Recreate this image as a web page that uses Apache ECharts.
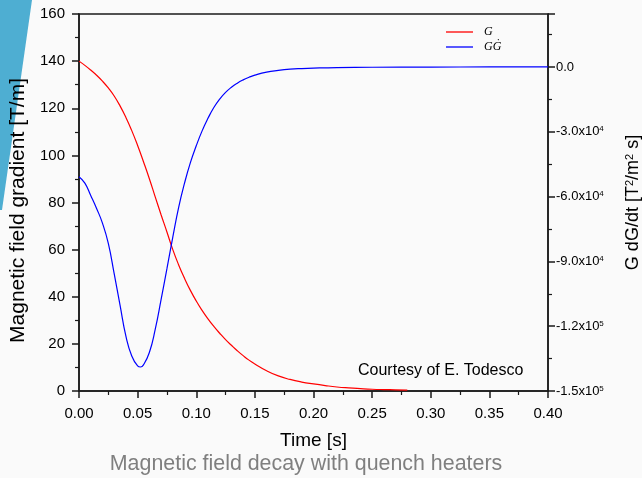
<!DOCTYPE html>
<html>
<head>
<meta charset="utf-8">
<script src="https://cdn.jsdelivr.net/npm/echarts@6/dist/echarts.min.js"></script>
<style>
  html, body { margin: 0; padding: 0; background: #fafafa; }
  #chart { width: 642px; height: 478px; }
</style>
</head>
<body>
<div id="chart"></div>
<script>
// G(t) in T/m
const timeG = [0, 0.005, 0.01, 0.015, 0.02, 0.025, 0.03, 0.035, 0.04, 0.045, 0.05, 0.055, 0.06, 0.065, 0.07, 0.075,
  0.08, 0.085, 0.09, 0.095, 0.1, 0.105, 0.11, 0.115, 0.12, 0.125, 0.13, 0.135, 0.14, 0.145, 0.15,
  0.16, 0.17, 0.18, 0.19, 0.2, 0.21, 0.22, 0.23, 0.24, 0.25, 0.26, 0.27, 0.28]
const gradient = [140, 138.2, 136.2, 134.0, 131.5, 128.6, 125.2, 121.0, 116.1, 110.5, 104.2, 97.3, 90.1, 82.4, 74.8, 67.5,
  60.0, 53.5, 47.8, 42.7, 38.2, 34.2, 30.6, 27.4, 24.5, 21.8, 19.4, 17.1, 15.0, 13.1, 11.5,
  8.6, 6.4, 4.9, 3.8, 3.0, 2.3, 1.7, 1.3, 1.0, 0.75, 0.6, 0.5, 0.4]

// G dG/dt in T^2/m^2 s
const timeGG = [0, 0.005, 0.01, 0.015, 0.02, 0.025, 0.03, 0.035, 0.04, 0.045, 0.05, 0.0525, 0.055, 0.06, 0.065,
  0.07, 0.075, 0.08, 0.085, 0.09, 0.095, 0.1, 0.105, 0.11, 0.115, 0.12, 0.125, 0.13, 0.135, 0.14, 0.145, 0.15,
  0.16, 0.17, 0.18, 0.19, 0.2, 0.22, 0.25, 0.3, 0.35, 0.4]
const gDotG = [-50800, -53800, -59500, -65500, -72300, -81700, -95700, -110300, -124600, -133800, -138400, -138900,
  -137900, -132200, -121500, -107700, -93400, -78800, -65000, -53800, -44300, -36500, -29600, -23800, -18800,
  -14900, -11800, -9400, -7500, -6000, -4800, -3800, -2400, -1600, -1050, -750, -550, -300, -150, -60, -20, 0]

const seriesNames = ['G', 'GĠ']

const axisColor = '#1a1a1a'
const font = 'Liberation Sans'

function sciLabel(v) {
  if (v > 0) return ''
  if (v === 0) return '0.0'
  const e = Math.floor(Math.log10(Math.abs(v)))
  const m = (v / Math.pow(10, e)).toFixed(1)
  return m + 'x10{sup|' + e + '}'
}

const chart = echarts.init(document.getElementById('chart'))
chart.setOption({
  backgroundColor: '#fafafa',
  animation: false,
  textStyle: { fontFamily: font },
  grid: {
    left: 79, right: 94, top: 14, bottom: 87,
    outerBoundsMode: 'none',
    containLabel: false,
    show: true, borderColor: axisColor, borderWidth: 1.5
  },
  legend: {
    orient: 'vertical',
    left: 446, top: 26,
    padding: 0,
    icon: 'rect',
    itemWidth: 27, itemHeight: 1.3, itemGap: 3,
    textStyle: { fontFamily: 'Liberation Serif', fontStyle: 'italic', fontSize: 12, color: '#000', padding: [0, 0, 0, 6] },
    data: seriesNames
  },
  xAxis: {
    type: 'value',
    min: 0, max: 0.4, interval: 0.05,
    name: 'Time [s]',
    nameLocation: 'middle',
    nameGap: 40,
    nameTextStyle: { fontSize: 19, color: '#000' },
    axisLine: { lineStyle: { color: axisColor, width: 1.5 } },
    axisTick: { length: 7, lineStyle: { width: 1.5 } },
    minorTick: { show: true, splitNumber: 2, length: 4, lineStyle: { color: axisColor, width: 1.2 } },
    splitLine: { show: false },
    axisLabel: { fontSize: 15, color: '#000', margin: 15, formatter: v => v.toFixed(2) }
  },
  yAxis: [
    {
      type: 'value',
      min: 0, max: 160, interval: 20,
      name: 'Magnetic field gradient [T/m]',
      nameLocation: 'middle',
      nameGap: 46,
      nameTextStyle: { fontSize: 21, color: '#000', padding: [0, 16, 0, 0] },
      axisLine: { show: true, lineStyle: { color: axisColor, width: 1.5 } },
      axisTick: { show: true, length: 7, lineStyle: { width: 1.5 } },
      minorTick: { show: true, splitNumber: 2, length: 4, lineStyle: { color: axisColor, width: 1.2 } },
      splitLine: { show: false },
      axisLabel: { fontSize: 15, color: '#000', margin: 14 }
    },
    {
      type: 'value',
      position: 'right',
      min: -150000, max: 24500, interval: 30000,
      name: 'G dG/dt [T{sup|2}/m{sup|2} s]',
      nameLocation: 'middle',
      nameGap: 76,
      nameRotate: 90,
      nameTextStyle: {
        fontSize: 18, color: '#000',
        rich: { sup: { fontSize: 11, verticalAlign: 'top', color: '#000' } }
      },
      axisLine: { show: true, lineStyle: { color: axisColor, width: 1.5 } },
      axisTick: { show: true, length: 7, lineStyle: { width: 1.5 } },
      minorTick: { show: true, splitNumber: 2, length: 4, lineStyle: { color: axisColor, width: 1.2 } },
      splitLine: { show: false },
      axisLabel: {
        fontSize: 13, color: '#000', margin: 8,
        formatter: sciLabel,
        rich: { sup: { fontSize: 8, verticalAlign: 'top', color: '#000' } }
      }
    }
  ],
  graphic: [
    {
      type: 'polygon',
      shape: { points: [[0, 0], [32, 0], [2, 210], [0, 210]] },
      style: { fill: '#4eaed2' },
      silent: true
    },
    {
      type: 'text',
      style: { x: 358, y: 371, text: 'Courtesy of E. Todesco', font: '16px Liberation Sans', fill: '#000', textVerticalAlign: 'middle' }
    },
    {
      type: 'text',
      style: { x: 306, y: 464, text: 'Magnetic field decay with quench heaters', font: '21.4px Liberation Sans', fill: '#7f7f7f', textAlign: 'center', textVerticalAlign: 'middle' }
    }
  ],
  series: [
    {
      name: seriesNames[0],
      type: 'line',
      yAxisIndex: 0,
      symbol: 'none',
      smooth: 0.5,
      lineStyle: { color: '#ff0000', width: 1.2 },
      itemStyle: { color: '#ff0000' },
      data: timeG.map((t, i) => [t, gradient[i]])
    },
    {
      name: seriesNames[1],
      type: 'line',
      yAxisIndex: 1,
      symbol: 'none',
      smooth: 0.5,
      lineStyle: { color: '#0000ff', width: 1.2 },
      itemStyle: { color: '#0000ff' },
      data: timeGG.map((t, i) => [t, gDotG[i]])
    }
  ]
})
</script>
</body>
</html>
